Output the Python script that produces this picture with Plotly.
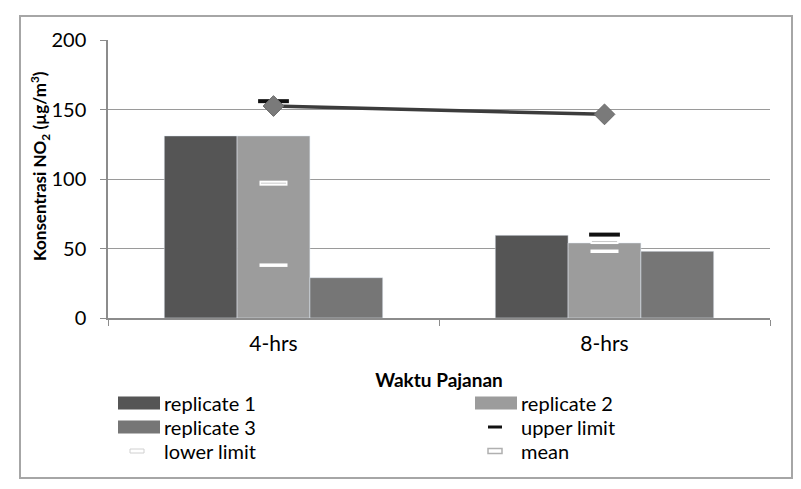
import plotly.graph_objects as go

categories = ["4-hrs", "8-hrs"]
replicate1 = [131, 59.5]
replicate2 = [131, 54]
replicate3 = [29, 48]
line_values = [152.5, 146.5]
upper_limit = [156, 60]
lower_limit = [38, 48]
mean_values = [97, 55]
y_ticks = [0, 50, 100, 150, 200]

W, H = 801, 489
L, R, T, B = 108, 770, 40, 318  # plot area in pixels

def px(x):
    return (x - L) / (R - L)

def py(y):
    return (B - y) / (B - T)

FONT = "Lato, Calibri, Carlito, sans-serif"
C1, C2, C3 = "#555555", "#9c9c9c", "#767676"
TXT = "#000000"

fig = go.Figure()
fig.add_trace(go.Bar(x=categories, y=replicate1, name="replicate 1", marker_color=C1, showlegend=False))
fig.add_trace(go.Bar(x=categories, y=replicate2, name="replicate 2", marker_color=C2, showlegend=False))
fig.add_trace(go.Bar(x=categories, y=replicate3, name="replicate 3", marker_color=C3, showlegend=False))

fig.add_trace(go.Scatter(x=categories, y=upper_limit, mode="markers", name="upper limit", showlegend=False,
                         marker=dict(symbol="line-ew", size=22, line=dict(color="#111111", width=4))))
fig.add_trace(go.Scatter(x=categories, y=lower_limit, mode="markers", name="lower limit", showlegend=False,
                         marker=dict(symbol="line-ew", size=20, line=dict(color="#ffffff", width=3.5))))
fig.add_trace(go.Scatter(x=categories, y=mean_values, mode="markers", name="mean", showlegend=False,
                         marker=dict(symbol="line-ew", size=20, line=dict(color="#ffffff", width=5))))
fig.add_trace(go.Scatter(x=categories, y=mean_values, mode="markers", showlegend=False, hoverinfo="skip",
                         marker=dict(symbol="line-ew", size=18, line=dict(color="#c8c8c8", width=1))))
fig.add_trace(go.Scatter(x=categories, y=line_values, mode="lines+markers", showlegend=False,
                         line=dict(color="#3c3c3c", width=3.5),
                         marker=dict(symbol="diamond", size=16, color="#7a7a7a",
                                     line=dict(color="#6a6a6a", width=1))))

shapes = []
annotations = []

# outer border
shapes.append(dict(type="rect", xref="paper", yref="paper",
                   x0=px(20), x1=px(792), y0=py(478), y1=py(16),
                   line=dict(color="#a6a6a6", width=2), layer="below"))

# manual legend
legend_items = [
    ("replicate 1", "bar", C1, 118, 403),
    ("replicate 2", "bar", C2, 475, 403),
    ("replicate 3", "bar", C3, 118, 427),
    ("upper limit", "upper", None, 475, 427),
    ("lower limit", "lower", None, 118, 451),
    ("mean", "mean", None, 475, 451),
]
for label, kind, color, x0, yc in legend_items:
    if kind == "bar":
        shapes.append(dict(type="rect", xref="paper", yref="paper",
                           x0=px(x0), x1=px(x0 + 42), y0=py(yc + 6.5), y1=py(yc - 6.5),
                           fillcolor=color, line=dict(width=0)))
    elif kind == "upper":
        shapes.append(dict(type="line", xref="paper", yref="paper",
                           x0=px(x0 + 13), x1=px(x0 + 27), y0=py(yc), y1=py(yc),
                           line=dict(color="#111111", width=3)))
    elif kind == "lower":
        shapes.append(dict(type="rect", xref="paper", yref="paper",
                           x0=px(x0 + 12), x1=px(x0 + 26), y0=py(yc + 2), y1=py(yc - 2),
                           fillcolor="#ffffff", line=dict(color="#d0d0d0", width=1)))
    else:
        shapes.append(dict(type="rect", xref="paper", yref="paper",
                           x0=px(x0 + 13), x1=px(x0 + 27), y0=py(yc + 2.5), y1=py(yc - 2.5),
                           fillcolor="#ffffff", line=dict(color="#b0b0b0", width=1.5)))
    annotations.append(dict(xref="paper", yref="paper", x=px(x0 + 44), y=py(yc),
                            xanchor="left", yanchor="middle", showarrow=False,
                            text=label, font=dict(family=FONT, size=20, color=TXT)))

annotations.append(dict(xref="paper", yref="paper", x=px(40), y=py(166),
                        xanchor="center", yanchor="middle", showarrow=False, textangle=-90,
                        text="<b>Konsentrasi NO<sub>2</sub> (µg/m<sup>3</sup>)</b>",
                        font=dict(family=FONT, size=17, color=TXT)))

fig.update_layout(
    width=W, height=H,
    margin=dict(l=L, r=W - R, t=T, b=H - B, pad=0),
    paper_bgcolor="white", plot_bgcolor="white",
    barmode="group", bargap=0.34, bargroupgap=0,
    showlegend=False,
    shapes=shapes, annotations=annotations,
    font=dict(family=FONT, color=TXT),
)
fig.update_xaxes(type="category", range=[-0.5, 1.5], showline=True, linecolor="#8c8c8c", linewidth=1.5,
                 ticks="outside", tickson="boundaries", ticklen=6, tickcolor="#8c8c8c",
                 tickfont=dict(family=FONT, size=21, color=TXT), ticklabelstandoff=6,
                 showgrid=False, automargin=False,
                 title=dict(text="<b>Waktu Pajanan</b>", standoff=20,
                            font=dict(family=FONT, size=19, color=TXT)))
fig.update_yaxes(range=[0, 200], tickvals=y_ticks, showline=True, linecolor="#8c8c8c", linewidth=1.5,
                 ticks="outside", ticklen=6, tickcolor="#8c8c8c",
                 showgrid=True, gridcolor="#9a9a9a", gridwidth=1, zeroline=False,
                 tickfont=dict(family=FONT, size=20, color=TXT), ticklabelstandoff=10,
                 automargin=False)

fig.write_html("out.html")
